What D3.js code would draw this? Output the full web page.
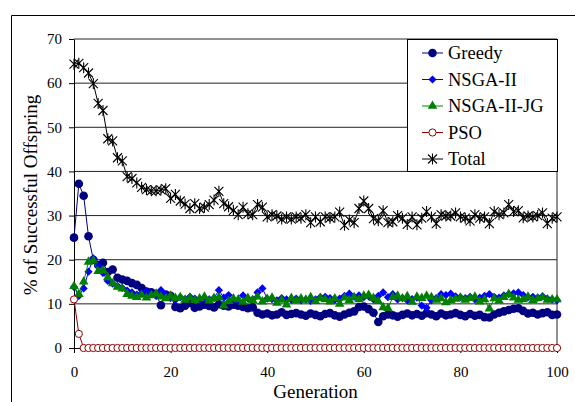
<!DOCTYPE html>
<html>
<head>
<meta charset="utf-8">
<script src="https://cdn.jsdelivr.net/npm/d3@7/dist/d3.min.js"></script>
<style>
body { margin: 0; background: #fff; }
</style>
</head>
<body>
<svg id="chart" width="575" height="402" font-family="Liberation Serif"></svg>
<script>
// x categories: generation number
var generations = d3.range(0, 101)

var yTicks = [0, 10, 20, 30, 40, 50, 60, 70]
var xTicks = [0, 20, 40, 60, 80, 100]

var greedy = [
  25.0, 37.2, 34.5, 25.3, 20.0, 18.8, 19.3, 17.2, 17.8, 15.9,
  15.5, 15.2, 14.7, 14.3, 13.6, 12.8, 12.6, 12.2, 9.7, 12.1,
  11.8, 9.3, 9.0, 9.6, 10.2, 9.1, 9.4, 9.8, 9.5, 9.2,
  9.9, 9.6, 9.4, 9.8, 9.6, 9.3, 9.0, 9.2, 8.0, 7.6,
  7.8, 7.4, 7.6, 8.1, 7.5, 7.7, 7.9, 7.6, 7.3, 7.8,
  7.5, 7.2, 7.7, 7.9, 7.4, 7.1, 7.6, 8.0, 8.3, 9.3,
  9.4, 8.8, 8.0, 5.9, 7.2, 7.6, 7.4, 7.1, 7.5, 7.8,
  7.4, 7.7, 7.3, 7.9, 7.6, 7.2, 7.8, 7.4, 7.6, 7.9,
  7.5, 7.2, 7.7, 7.3, 7.5, 7.0, 6.9, 7.6, 8.0, 8.3,
  8.6, 8.9, 9.0, 8.4, 7.8, 8.0, 7.6, 7.9, 8.1, 7.5, 7.6
]

var nsga2 = [
  13.8, 11.8, 13.5, 17.3, 20.3, 18.6, 17.0, 15.2, 14.6, 14.1,
  13.6, 13.0, 12.6, 12.1, 12.4, 12.8, 12.2, 11.8, 13.1, 12.0,
  11.3, 10.9, 11.5, 11.0, 11.6, 11.2, 10.8, 11.4, 11.0, 11.3,
  13.1, 11.4, 12.0, 11.0, 10.7, 11.9, 11.2, 11.0, 12.6, 13.5,
  11.2, 11.1, 10.8, 11.3, 11.0, 10.9, 11.2, 10.8, 11.0, 10.7,
  11.0, 11.5, 11.6, 11.3, 10.9, 11.2, 11.8, 12.3, 11.6, 11.9,
  11.5, 11.7, 11.0, 11.8, 12.6, 11.5, 12.2, 11.0, 11.3, 10.8,
  11.1, 11.4, 9.6, 9.1, 10.8, 11.3, 12.2, 12.0, 12.3, 11.7,
  11.5, 11.3, 11.6, 11.0, 11.4, 11.8, 12.2, 11.6, 11.4, 11.9,
  12.2, 12.4, 12.6, 12.0, 11.5, 11.6, 11.4, 11.7, 11.2, 11.0, 10.8
]

var nsga2jg = [
  14.0, 12.2, 15.0, 19.5, 19.8, 17.4, 17.6, 16.0, 14.6, 13.8,
  13.4, 12.2, 11.8, 11.5, 12.0, 11.4, 11.9, 12.3, 11.6, 11.2,
  11.8, 11.3, 11.5, 10.9, 11.4, 10.8, 11.2, 11.6, 10.7, 11.3,
  11.5, 9.6, 10.6, 11.2, 11.0, 10.4, 11.3, 10.8, 11.6, 10.5,
  11.1, 11.4, 10.2, 10.9, 9.8, 11.3, 10.7, 11.2, 10.9, 11.5,
  10.6, 11.3, 11.0, 10.5, 11.2, 10.0, 11.4, 10.8, 11.5, 11.0,
  11.8, 12.0, 11.3, 10.6, 9.2, 9.0, 11.5, 11.8, 11.2, 11.7,
  10.4, 11.6, 11.3, 11.8, 11.5, 10.9, 11.2, 10.3, 10.8, 11.1,
  11.4, 10.9, 11.3, 11.6, 10.5, 11.0, 8.9, 11.2, 10.7, 11.5,
  12.2, 11.4, 10.9, 11.0, 11.6, 10.8, 11.2, 11.5, 10.9, 11.0, 11.0
]

var pso = [
  11.0, 3.2, 0, 0, 0, 0, 0, 0, 0, 0,
  0, 0, 0, 0, 0, 0, 0, 0, 0, 0,
  0, 0, 0, 0, 0, 0, 0, 0, 0, 0,
  0, 0, 0, 0, 0, 0, 0, 0, 0, 0,
  0, 0, 0, 0, 0, 0, 0, 0, 0, 0,
  0, 0, 0, 0, 0, 0, 0, 0, 0, 0,
  0, 0, 0, 0, 0, 0, 0, 0, 0, 0,
  0, 0, 0, 0, 0, 0, 0, 0, 0, 0,
  0, 0, 0, 0, 0, 0, 0, 0, 0, 0,
  0, 0, 0, 0, 0, 0, 0, 0, 0, 0, 0
]

var total = [
  64.3, 64.5, 63.5, 62.3, 59.9, 55.4, 53.8, 47.4, 46.9, 43.1,
  42.4, 38.8, 38.4, 37.4, 36.4, 35.9, 35.6, 35.6, 35.8, 36.1,
  33.9, 34.8, 33.3, 32.6, 31.6, 32.7, 31.6, 31.9, 32.5, 33.5,
  35.5, 32.7, 32.0, 31.2, 30.2, 31.9, 30.4, 30.2, 32.5, 31.9,
  29.7, 30.2, 29.9, 29.2, 29.7, 29.2, 29.7, 29.4, 30.2, 28.4,
  29.7, 28.6, 29.7, 29.4, 29.7, 30.8, 27.8, 29.0, 28.4, 31.6,
  33.3, 31.6, 29.3, 28.8, 31.1, 28.4, 28.6, 30.0, 29.4, 28.0,
  29.7, 27.9, 29.4, 30.9, 29.7, 28.2, 30.2, 29.9, 29.9, 30.6,
  29.7, 29.4, 28.8, 30.2, 29.4, 29.7, 28.2, 30.9, 30.2, 30.6,
  32.5, 30.9, 31.1, 29.5, 29.9, 29.7, 30.0, 30.6, 28.2, 29.4, 29.7
]

var starPath = 'M-4.5,-4.5L4.5,4.5M-4.5,4.5L4.5,-4.5M0,-5.5L0,5.5'
var fontName = 'Liberation Serif'

var series = [
  { name: 'Greedy', values: greedy, color: '#000080', shape: 'circle' },
  { name: 'NSGA-II', values: nsga2, color: '#0000ff', shape: 'diamond' },
  { name: 'NSGA-II-JG', values: nsga2jg, color: '#008000', shape: 'triangle' },
  { name: 'PSO', values: pso, color: '#8b0000', shape: 'ring' },
  { name: 'Total', values: total, color: '#000000', shape: 'star' }
]

var svg = d3.select('#chart')

var x = d3.scaleLinear().domain([0, 100]).range([74, 557])
var y = d3.scaleLinear().domain([0, 70]).range([348, 39])

// outer chart frame
svg.append('path')
   .attr('d', 'M11.5,402V15.5H575')
   .attr('fill', 'none')
   .attr('stroke', '#000')

// gridlines
svg.append('g')
   .selectAll('line')
   .data(yTicks.slice(1))
   .join('line')
   .attr('x1', x(0))
   .attr('x2', x(100))
   .attr('y1', d => y(d))
   .attr('y2', d => y(d))
   .attr('stroke', '#222')
   .attr('stroke-width', 1)

// right border of plot area
svg.append('line')
   .attr('x1', x(100)).attr('x2', x(100))
   .attr('y1', y(70)).attr('y2', y(0))
   .attr('stroke', '#222')

var yAxis = svg.append('g')
               .attr('transform', 'translate(' + x(0) + ',0)')
               .call(d3.axisLeft(y).tickValues(yTicks).tickSize(5).tickSizeOuter(0).tickPadding(7))
               .attr('font-family', fontName)
               .attr('font-size', 15)

var xAxis = svg.append('g')
               .attr('transform', 'translate(0,' + y(0) + ')')
               .call(d3.axisBottom(x).tickValues(xTicks).tickSize(5).tickSizeOuter(0).tickPadding(13))
               .attr('font-family', fontName)
               .attr('font-size', 15)

svg.selectAll('.tick text').attr('fill', '#000')
svg.selectAll('.domain, .tick line').attr('stroke', '#000')

var marker = function (sel, s) {
  if (s.shape === 'circle') {
    sel.append('circle').attr('r', 4.3).attr('fill', s.color)
  } else if (s.shape === 'diamond') {
    sel.append('path').attr('d', d3.symbol(d3.symbolSquare, 34)()).attr('transform', 'rotate(45)').attr('fill', s.color)
  } else if (s.shape === 'triangle') {
    sel.append('path').attr('d', d3.symbol(d3.symbolTriangle, 40)()).attr('fill', s.color)
  } else if (s.shape === 'ring') {
    sel.append('circle').attr('r', 3.6).attr('fill', '#fff').attr('stroke', s.color).attr('stroke-width', 1)
  } else {
    sel.append('path').attr('d', starPath).attr('fill', 'none').attr('stroke', s.color).attr('stroke-width', 1.1)
  }
}

var line = d3.line()
             .x((d, i) => x(generations[i]))
             .y(d => y(d))

series.forEach(s => {
  var g = svg.append('g')
  g.append('path')
   .attr('d', line(s.values))
   .attr('fill', 'none')
   .attr('stroke', s.color)
   .attr('stroke-width', 1)

  s.values.forEach((v, i) => {
    var m = g.append('g').attr('transform', 'translate(' + x(generations[i]) + ',' + y(v) + ')')
    marker(m, s)
  })
})

// axis titles
svg.append('text')
   .attr('x', (x(0) + x(100)) / 2)
   .attr('y', 398)
   .attr('text-anchor', 'middle')
   .attr('font-family', fontName)
   .attr('font-size', 19)
   .text('Generation')

svg.append('text')
   .attr('transform', 'translate(37,195) rotate(-90)')
   .attr('text-anchor', 'middle')
   .attr('font-family', fontName)
   .attr('font-size', 19)
   .text('% of Successful Offspring')

// legend
var legend = svg.append('g').attr('id', 'legend')

legend.append('rect')
      .attr('x', 407.5)
      .attr('y', 39.5)
      .attr('width', 150)
      .attr('height', 132)
      .attr('fill', '#fff')
      .attr('stroke', '#000')

series.forEach((s, i) => {
  var top = 53 + i * 26.5
  legend.append('line')
        .attr('x1', 422).attr('x2', 443)
        .attr('y1', top).attr('y2', top)
        .attr('stroke', s.color)
  var m = legend.append('g').attr('transform', 'translate(432.5,' + top + ')')
  marker(m, s)
  legend.append('text')
        .attr('x', 448)
        .attr('y', top)
        .attr('dy', '0.35em')
        .attr('font-family', fontName)
        .attr('font-size', 18.5)
        .text(s.name)
})
</script>
</body>
</html>
